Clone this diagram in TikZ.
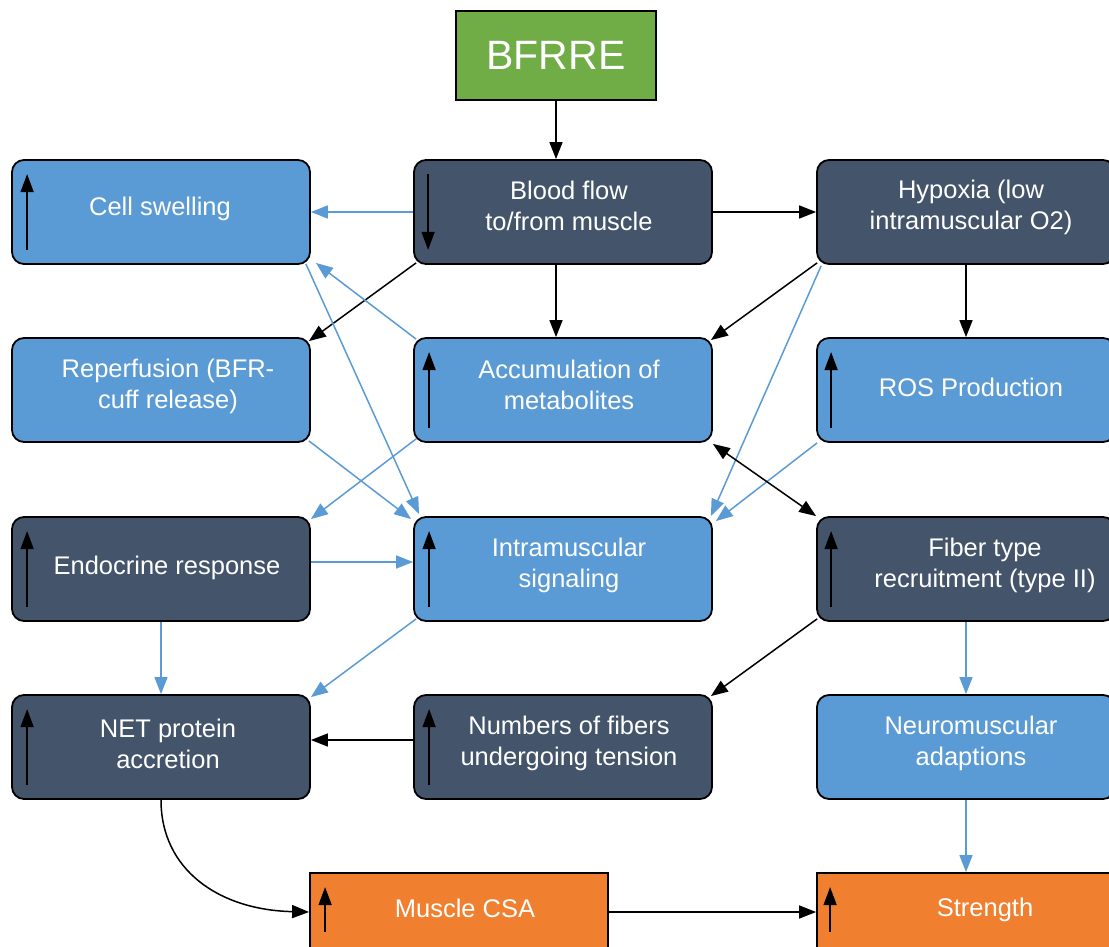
\documentclass[tikz,border=0pt]{standalone}
\usepackage{fontspec}
\setmainfont{Liberation Sans}
\usetikzlibrary{arrows.meta}
\definecolor{cblue}{HTML}{5B9BD5}
\definecolor{cdark}{HTML}{44546A}
\definecolor{cgreen}{HTML}{70AD47}
\definecolor{corange}{HTML}{F0802F}
\begin{document}
\begin{tikzpicture}[x=1pt,y=-1pt,
  box/.style={draw=black,line width=1.8pt,rounded corners=12pt,minimum width=298pt,minimum height=104pt,inner sep=0pt},
  sqbox/.style={draw=black,line width=1.8pt,minimum width=298pt,minimum height=104pt,inner sep=0pt},
  blu/.style={box,fill=cblue},
  drk/.style={box,fill=cdark},
  org/.style={sqbox,fill=corange},
  txt/.style={text=white,font=\fontsize{25.5}{31}\selectfont,align=center,inner sep=0pt},
  ind/.style={line width=1.6pt,-{Triangle[length=18pt,width=13pt]}},
  bk/.style={line width=1.5pt,draw=black,-{Triangle[length=17pt,width=13pt]}},
  bkk/.style={line width=1.5pt,draw=black,{Triangle[length=17pt,width=13pt]}-{Triangle[length=17pt,width=13pt]}},
  bl/.style={line width=1.5pt,draw=cblue,-{Triangle[length=17pt,width=13pt,fill=cblue]}},
]
\path[use as bounding box] (0,0) rectangle (1109,947);
\clip (0,0) rectangle (1109,947);

% boxes
\node[sqbox,fill=cgreen,minimum width=200pt,minimum height=89pt,text=white,font=\fontsize{41}{45}\selectfont] (bfrre) at (556,55.5) {BFRRE};
\node[blu] (cs) at (161,212) {};
\node[drk] (bf) at (563,212) {};
\node[drk] (hy) at (966,212) {};
\node[blu] (rp) at (161,390) {};
\node[blu] (ac) at (563,390) {};
\node[blu] (ros) at (966,390) {};
\node[drk] (en) at (161,569) {};
\node[blu] (im) at (563,569) {};
\node[drk] (ft) at (966,569) {};
\node[drk] (net) at (161,747) {};
\node[drk] (nf) at (563,747) {};
\node[blu] (nm) at (966,747) {};
\node[org] (csa) at (459,925) {};
\node[org] (st) at (966,925) {};

% texts
\node[txt] (cs-t) at ([xshift=-1pt,yshift=3pt]cs.center) {Cell swelling};
\node[txt] (bf-t) at ([xshift=6pt,yshift=6pt]bf.center) {Blood flow\\to/from muscle};
\node[txt] (hy-t) at ([xshift=5pt,yshift=5pt]hy.center) {Hypoxia (low\\intramuscular O2)};
\node[txt] (rp-t) at ([xshift=7pt,yshift=4pt]rp.center) {Reperfusion (BFR-\\cuff release)};
\node[txt] (ac-t) at ([xshift=6pt,yshift=5pt]ac.center) {Accumulation of\\metabolites};
\node[txt] (ros-t) at ([xshift=5pt,yshift=3pt]ros.center) {ROS Production};
\node[txt] (en-t) at ([xshift=6pt,yshift=1pt]en.center) {Endocrine response};
\node[txt] (im-t) at ([xshift=6pt,yshift=4pt]im.center) {Intramuscular\\signaling};
\node[txt] (ft-t) at ([xshift=19pt,yshift=4pt]ft.center) {Fiber type\\recruitment (type II)};
\node[txt] (net-t) at ([xshift=7pt,yshift=3.5pt]net.center) {NET protein\\accretion};
\node[txt] (nf-t) at ([xshift=6pt,yshift=3.5pt]nf.center) {Numbers of fibers\\undergoing tension};
\node[txt] (nm-t) at ([xshift=5pt,yshift=3.5pt]nm.center) {Neuromuscular\\adaptions};
\node[txt] (csa-t) at ([xshift=6pt,yshift=17pt]csa.center) {Muscle CSA};
\node[txt] (st-t) at ([xshift=19pt,yshift=15pt]st.center) {Strength};

% indicator arrows
\draw[ind] ([xshift=16pt,yshift=15pt]cs.south west) -- ([xshift=16pt,yshift=-15pt]cs.north west);
\draw[ind] ([xshift=15pt,yshift=-15pt]bf.north west) -- ([xshift=15pt,yshift=15pt]bf.south west);
\draw[ind] ([xshift=16pt,yshift=15pt]ac.south west) -- ([xshift=16pt,yshift=-15pt]ac.north west);
\draw[ind] ([xshift=15pt,yshift=15pt]ros.south west) -- ([xshift=15pt,yshift=-15pt]ros.north west);
\draw[ind] ([xshift=16pt,yshift=15pt]en.south west) -- ([xshift=16pt,yshift=-15pt]en.north west);
\draw[ind] ([xshift=16pt,yshift=15pt]im.south west) -- ([xshift=16pt,yshift=-15pt]im.north west);
\draw[ind] ([xshift=15pt,yshift=15pt]ft.south west) -- ([xshift=15pt,yshift=-15pt]ft.north west);
\draw[ind] ([xshift=16pt,yshift=15pt]net.south west) -- ([xshift=16pt,yshift=-15pt]net.north west);
\draw[ind] ([xshift=16pt,yshift=15pt]nf.south west) -- ([xshift=16pt,yshift=-15pt]nf.north west);
\draw[ind] ([xshift=16pt,yshift=-60pt]csa.north west) -- ([xshift=16pt,yshift=-15pt]csa.north west);
\draw[ind] ([xshift=14pt,yshift=-60pt]st.north west) -- ([xshift=14pt,yshift=-15pt]st.north west);

% vertical / horizontal connectors
\draw[bk] (bfrre.south) -- (bfrre.south |- bf.north);
\draw[bk] ([xshift=-7pt]bf.south) -- ([xshift=-7pt]ac.north);
\draw[bk] (hy.south) -- (ros.north);
\draw[bl] (en.south) -- (net.north);
\draw[bl] (ft.south) -- (nm.north);
\draw[bl] (nm.south) -- (st.north);
\draw[bl] (bf.west) -- (cs.east);
\draw[bk] (bf.east) -- (hy.west);
\draw[bl] ([yshift=7pt]en.east) -- ([yshift=7pt]im.west);
\draw[bk] ([yshift=7pt]nf.west) -- ([yshift=7pt]net.east);
\draw[bk] ([yshift=13pt]csa.east) -- ([yshift=13pt]st.west);
\draw[bk] (net.south) .. controls ([yshift=-70pt]net.south) and ([xshift=-90pt,yshift=15pt]csa.west) .. ([yshift=13pt]csa.west);

% diagonal connectors
\draw[bk] ([xshift=3pt,yshift=2pt]bf.south west) -- ([xshift=-2pt,yshift=-4pt]rp.north east);
\draw[bl] ([xshift=3pt,yshift=-2pt]ac.north west) -- ([xshift=5pt,yshift=2pt]cs.south east);
\draw[bl] ([xshift=-5pt,yshift=1pt]cs.south east) -- ([xshift=6pt,yshift=2pt]im.north west);
\draw[bl] ([xshift=-2pt,yshift=2pt]rp.south east) -- ([xshift=-2pt,yshift=-3pt]im.north west);
\draw[bl] ([xshift=3pt,yshift=4pt]ac.south west) -- ([yshift=-3pt]en.north east);
\draw[bl] ([xshift=3pt,yshift=3pt]im.south west) -- ([yshift=-3pt]net.north east);
\draw[bk] ([xshift=1pt,yshift=3pt]ft.south west) -- ([xshift=-2pt,yshift=-2pt]nf.north east);
\draw[bk] ([xshift=1pt,yshift=2pt]hy.south west) -- ([xshift=-2pt,yshift=-3pt]ac.north east);
\draw[bl] ([xshift=5pt,yshift=-1pt]hy.south west) -- ([xshift=-2pt,yshift=0pt]im.north east);
\draw[bl] ([xshift=1pt,yshift=0pt]ros.south west) -- ([xshift=3pt,yshift=-5pt]im.north east);
\draw[bkk] ([yshift=-1pt]ac.south east) -- (ft.north west);
\end{tikzpicture}
\end{document}
